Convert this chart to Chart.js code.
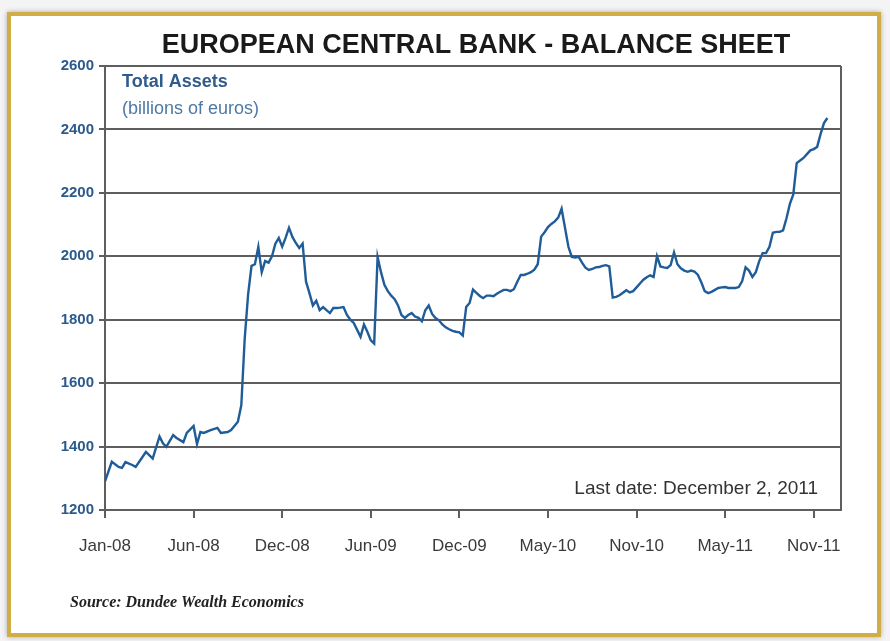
<!DOCTYPE html>
<html>
<head>
<meta charset="utf-8">
<script src="https://cdn.jsdelivr.net/npm/chart.js@4/dist/chart.umd.min.js"></script>
<style>
  html, body { margin: 0; padding: 0; }
  body { width: 890px; height: 641px; background: #f4f4f4; position: relative; overflow: hidden; }
  .frame {
    position: absolute; left: 7px; top: 12px; width: 874px; height: 625px;
    box-sizing: border-box; border: 4px solid #d1ad48; background: #ffffff;
    box-shadow: 0 0 5px rgba(0, 0, 0, 0.3);
  }
  .wrap { position: absolute; left: 0; top: 0; width: 890px; height: 641px; }
</style>
</head>
<body>
<div class="frame"></div>
<div class="wrap"><canvas id="ecbChart"></canvas></div>
<script>
// Weekly total assets (billions of euros), week 0 = first week of Jan 2008
// null = week not read off the picture
const weeklyAssets = [
    1290, null, 1352, null, 1336, 1333, 1351, null, 1342, 1336,
    null, 1367, 1383, null, 1362, null, 1432, 1410, 1399, null,
    1436, 1427, null, 1414, 1443, null, 1465, 1408, 1446, 1443,
    null, 1452, null, 1459, 1443, null, 1446, 1452, null, 1478,
    1530, 1740, 1880, 1970, 1975, 2030, 1950, 1985, 1980, 2000,
    2040, 2058, 2030, 2058, 2090, 2061, 2042, 2026, 2040, 1920,
    1884, 1845, 1860, 1830, 1840, 1830, 1821, 1837, 1837, 1838,
    1840, 1815, 1800, 1790, 1768, 1746, 1785, 1762, 1735, 1725,
    1998, 1950, 1910, 1890, 1876, 1865, 1845, 1815, 1806, 1815,
    1821, 1810, 1806, 1795, 1830, 1845, 1818, 1805, 1798, 1785,
    1776, 1770, 1765, 1762, 1760, 1750, 1840, 1853, 1895, 1885,
    1875, 1868, 1876, 1876, 1874, 1882, 1888, 1894, 1894, 1890,
    1896, 1920, 1941, 1941, 1945, 1950, 1958, 1975, 2062, 2076,
    2092, 2102, 2110, 2122, 2150, 2090, 2030, 1998, 1996, 1998,
    1980, 1964, 1957, 1960, 1965, 1966, 1970, 1972, 1968, 1870,
    1872, 1877, 1885, 1893, 1886, 1890, 1902, 1914, 1926, 1934,
    1940, 1935, 2000, 1968, 1965, 1963, 1972, 2012, 1975, 1962,
    1955, 1951, 1955, 1952, 1941, 1918, 1890, 1884, 1888, 1894,
    1900, 1902, 1903, 1900, 1900, 1900, 1903, 1922, 1965, 1955,
    1935, 1950, 1985, 2010, 2010, 2030, 2074, 2077, 2077, 2082,
    2120, 2165, 2195, 2294, 2302, 2310, 2322, 2334, 2338, 2345,
    2385, 2420, 2436
];

// x-axis tick labels, one every 26 weeks
const tickLabels = ['Jan-08', 'Jun-08', 'Dec-08', 'Jun-09', 'Dec-09', 'May-10', 'Nov-10', 'May-11', 'Nov-11'];
const weeksPerTick = 26;
const lastWeekShown = 216;

// y-axis range
const yMin = 1200;
const yMax = 2600;
const yStep = 200;

const gridColor = '#5e5e5e';
const lineColor = '#1f5c98';

// Titles and notes drawn on top of the chart
const notesPlugin = {
    id: 'notes',
    afterDraw(chart) {
        const ctx = chart.ctx;
        const area = chart.chartArea;
        ctx.save();

        // right border of the plot
        ctx.strokeStyle = gridColor;
        ctx.lineWidth = 2;
        ctx.beginPath();
        ctx.moveTo(area.right, area.top);
        ctx.lineTo(area.right, area.bottom);
        ctx.stroke();

        // main title
        ctx.fillStyle = '#1a1a1a';
        ctx.font = 'bold 27px "Liberation Sans", Arial, sans-serif';
        ctx.textAlign = 'center';
        ctx.textBaseline = 'middle';
        ctx.fillText('EUROPEAN CENTRAL BANK - BALANCE SHEET', (area.left + area.right) / 2 + 3, 46);

        // series label
        ctx.textAlign = 'left';
        ctx.fillStyle = '#2f5c8c';
        ctx.font = 'bold 18px "Liberation Sans", Arial, sans-serif';
        ctx.fillText('Total Assets', area.left + 17, 82);
        ctx.fillStyle = '#4d79a6';
        ctx.font = '18px "Liberation Sans", Arial, sans-serif';
        ctx.fillText('(billions of euros)', area.left + 17, 109);

        // last date note
        ctx.textAlign = 'right';
        ctx.fillStyle = '#333333';
        ctx.font = '19px "Liberation Sans", Arial, sans-serif';
        ctx.fillText('Last date: December 2, 2011', 818, 489);

        // source
        ctx.textAlign = 'left';
        ctx.fillStyle = '#222222';
        ctx.font = 'italic bold 16px "Liberation Serif", "DejaVu Serif", serif';
        ctx.fillText('Source: Dundee Wealth Economics', 70, 603);

        ctx.restore();
    }
};

document.addEventListener('DOMContentLoaded', function() {
    const ctx = document.getElementById('ecbChart').getContext('2d');

    const points = weeklyAssets
        .map((value, week) => ({ x: week, y: value }))
        .filter(p => p.y !== null);

    new Chart(ctx, {
        type: 'line',
        data: {
            datasets: [{
                label: 'Total Assets',
                data: points,
                borderColor: lineColor,
                borderWidth: 2.4,
                pointRadius: 0,
                tension: 0,
                spanGaps: true,
                fill: false
            }]
        },
        options: {
            responsive: true,
            maintainAspectRatio: false,
            animation: false,
            layout: {
                padding: { left: 0, right: 49, top: 66, bottom: 0 }
            },
            scales: {
                x: {
                    type: 'linear',
                    min: 0,
                    max: lastWeekShown,
                    afterBuildTicks: scale => {
                        scale.ticks = tickLabels.map((label, i) => ({ value: i * weeksPerTick }));
                    },
                    afterFit: scale => { scale.height = 131; },
                    grid: {
                        drawOnChartArea: false,
                        color: gridColor,
                        lineWidth: 2,
                        tickLength: 8
                    },
                    border: { display: true, color: gridColor, width: 2 },
                    ticks: {
                        autoSkip: false,
                        maxRotation: 0,
                        padding: 18,
                        color: '#3a3a3a',
                        font: { family: '"Liberation Sans", Arial, sans-serif', size: 17 },
                        callback: value => tickLabels[Math.round(value / weeksPerTick)]
                    }
                },
                y: {
                    min: yMin,
                    max: yMax,
                    afterFit: scale => { scale.width = 105; },
                    grid: {
                        color: gridColor,
                        lineWidth: 2,
                        tickLength: 6
                    },
                    border: { display: true, color: gridColor, width: 2 },
                    ticks: {
                        stepSize: yStep,
                        padding: 5,
                        color: '#2b5a8c',
                        font: { family: '"Liberation Sans", Arial, sans-serif', size: 15, weight: 'bold' },
                        callback: value => String(value)
                    }
                }
            },
            plugins: {
                legend: { display: false },
                title: { display: false },
                tooltip: { enabled: false }
            }
        },
        plugins: [notesPlugin]
    });
});
</script>
</body>
</html>
